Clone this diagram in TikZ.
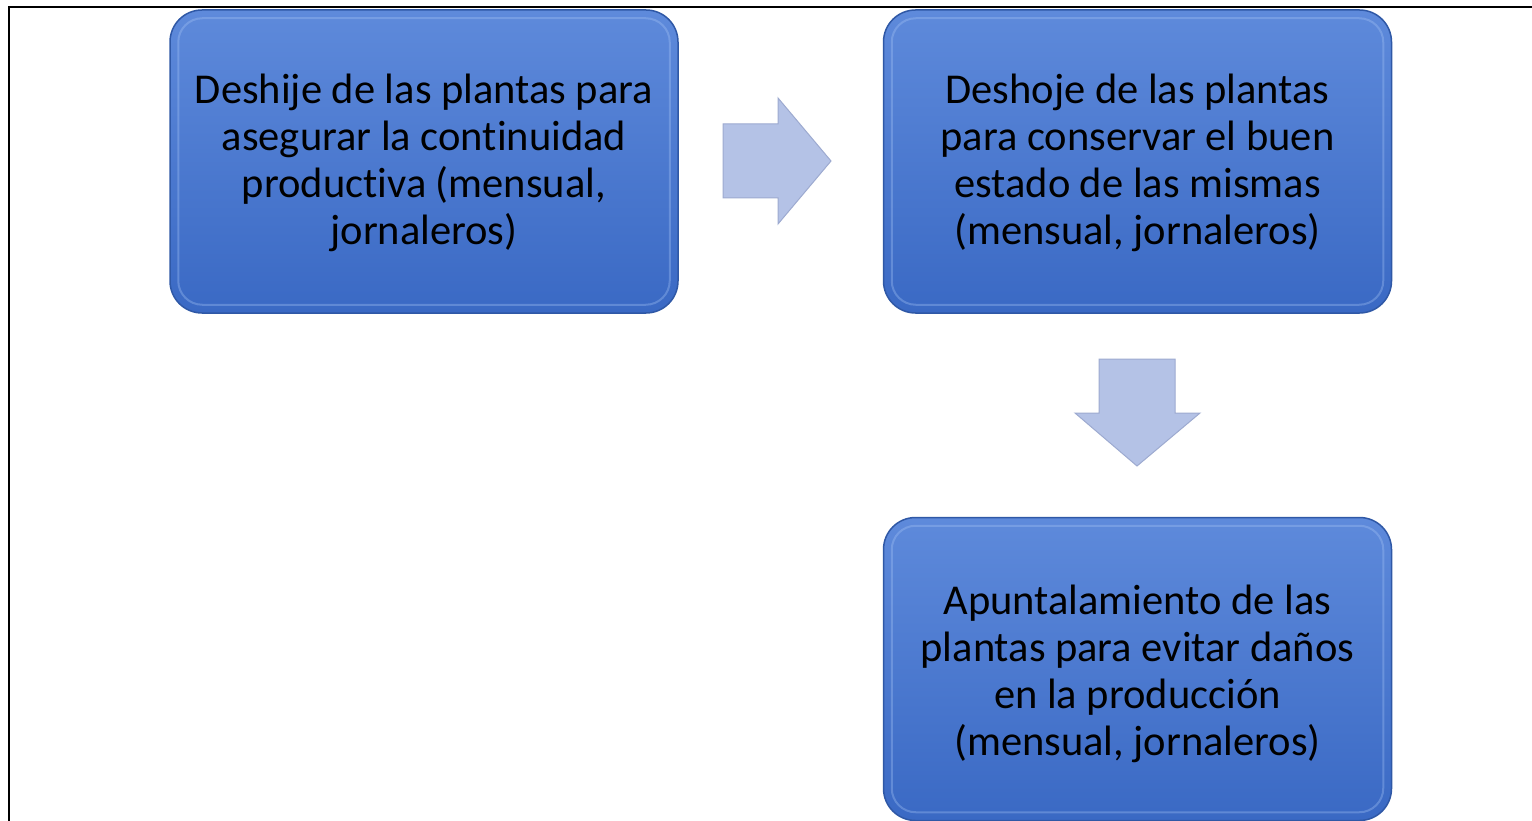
\documentclass[tikz,border=0pt]{standalone}
\usepackage{fontspec}
\setmainfont[Ligatures={NoCommon}]{Carlito}
\definecolor{boxtop}{HTML}{5E8ADB}
\definecolor{boxbot}{HTML}{3A69C4}
\definecolor{boxedge}{HTML}{2F58A6}
\definecolor{bevel}{HTML}{A6C4F5}
\definecolor{arrfill}{HTML}{B4C2E6}
\definecolor{arredge}{HTML}{9DAAD0}
\begin{document}
\begin{tikzpicture}[x=1pt,y=-1pt,
  stepbox/.style={rounded corners=32pt, top color=boxtop, bottom color=boxbot, draw=boxedge, line width=1.5pt,
    minimum width=508pt, minimum height=303pt, inner sep=0pt},
  steptext/.style={align=center, inner sep=0pt, font=\fontsize{42.5}{47}\selectfont},
  bevelline/.style={rounded corners=24pt, draw=bevel, line width=2pt, opacity=0.35},
  blockarrow/.style={fill=arrfill, draw=arredge, line width=1pt, line join=miter}]
\useasboundingbox (0,0) rectangle (1532,821);
\fill[white] (0,0) rectangle (1532,821);
\draw[line width=2pt] (9,821) -- (9,7) -- (1532,7);

\node[stepbox] (b1) at (424,161.5) {};
\node[stepbox] (b2) at (1137.5,161.5) {};
\node[stepbox] (b3) at (1137.5,669) {};

\foreach \b in {b1,b2,b3}{
  \draw[bevelline] ([xshift=9pt,yshift=-9pt]\b.north west) rectangle ([xshift=-9pt,yshift=9pt]\b.south east);
}

\node[steptext] (t1) at ([yshift=-1.5pt]b1.center) {Deshije de las plantas para\\asegurar la continuidad\\productiva (mensual,\\jornaleros)};
\node[steptext] (t2) at ([yshift=-1.5pt]b2.center) {Deshoje de las plantas\\para conservar el buen\\estado de las mismas\\(mensual, jornaleros)};
\node[steptext] (t3) at ([yshift=-4.5pt]b3.center) {Apuntalamiento de las\\plantas para evitar daños\\en la producción\\(mensual, jornaleros)};

\draw[blockarrow] (723,124) -- (778,124) -- (778,98) -- (831,161) -- (778,224) -- (778,198) -- (723,198) -- cycle;
\draw[blockarrow] (1099,359) -- (1175,359) -- (1175,413) -- (1200,413) -- (1137,466) -- (1075,413) -- (1099,413) -- cycle;
\end{tikzpicture}
\end{document}
